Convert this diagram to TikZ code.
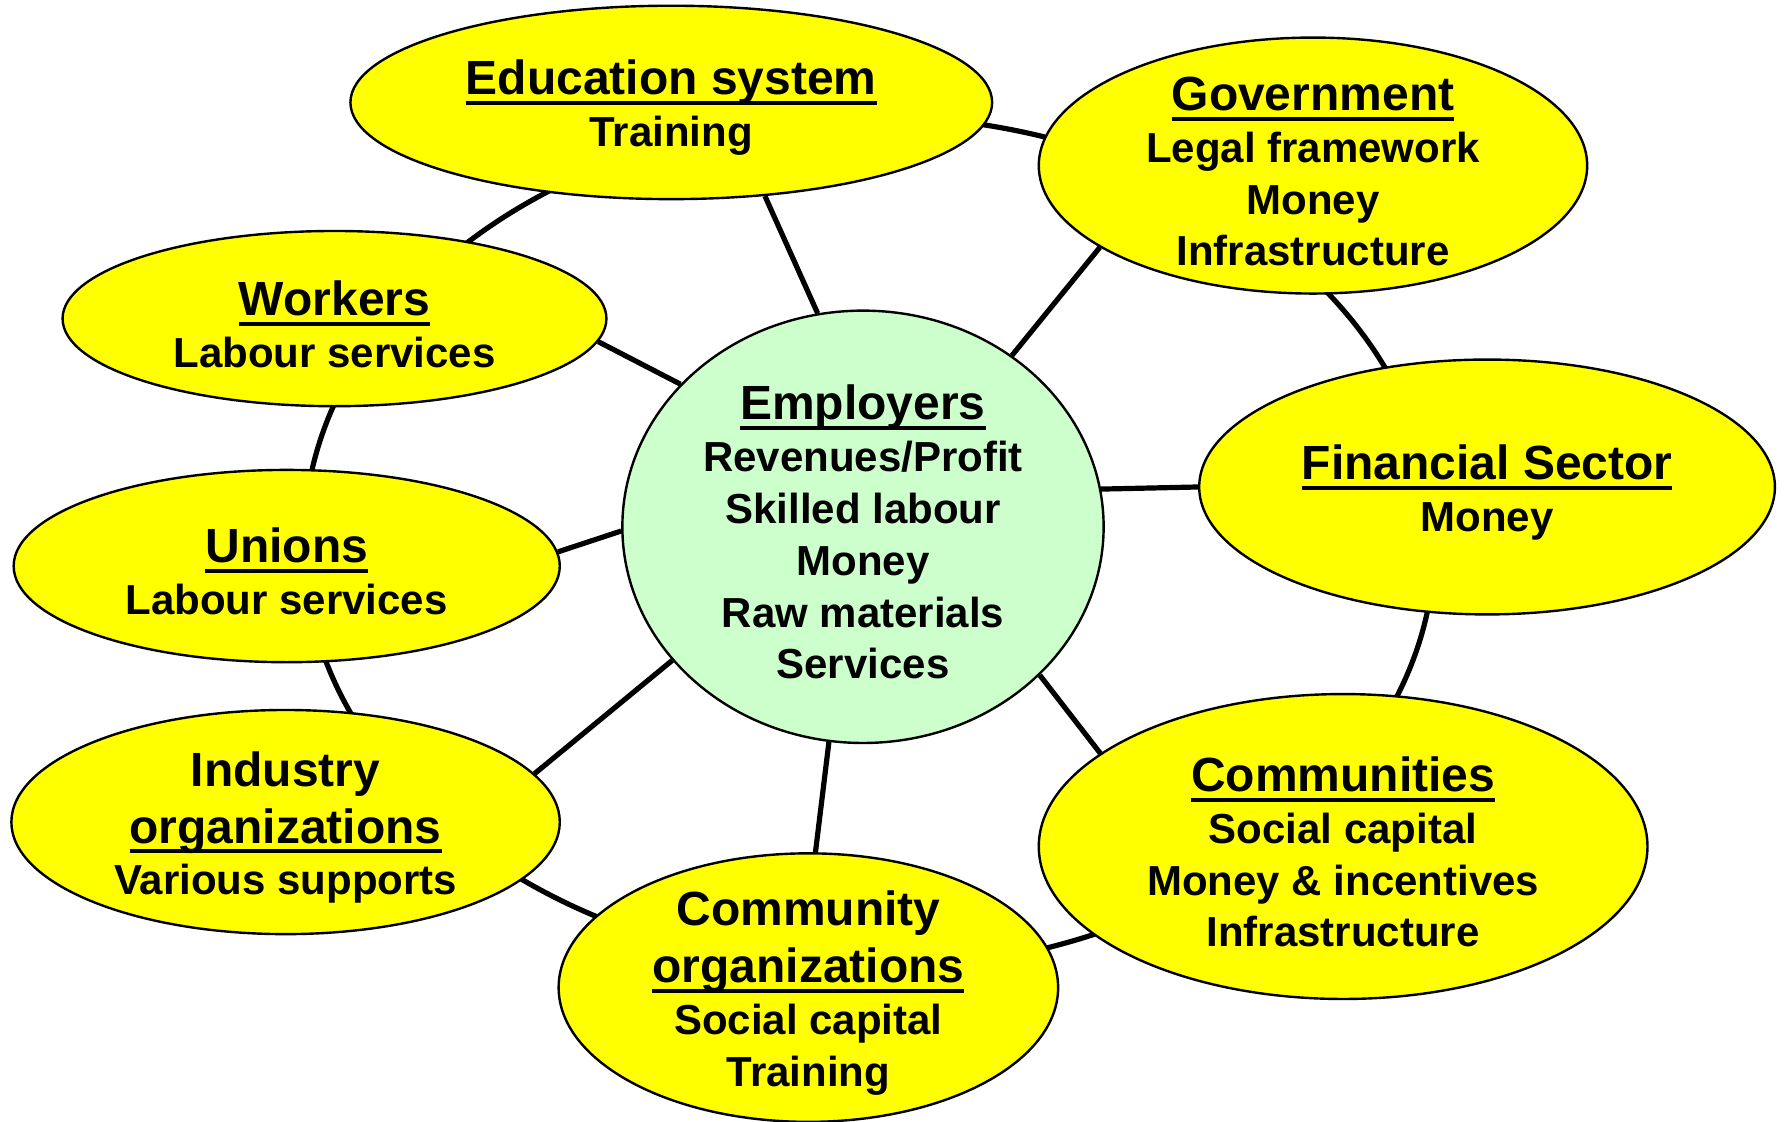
\documentclass[tikz,border=0pt]{standalone}
\usepackage{fontspec}
\setmainfont{Liberation Sans}
\usetikzlibrary{backgrounds,shapes.geometric}
\definecolor{bubbleyellow}{RGB}{255,255,0}
\definecolor{hubgreen}{RGB}{204,255,204}
\newcommand{\uword}[1]{\setbox0=\hbox{#1}\rlap{\rule[-2.6pt]{\wd0}{1pt}}\box0}
\newcommand{\uhead}[1]{{\fontsize{12}{14}\selectfont\rule{0pt}{11.4pt}\uword{#1}}}
\newcommand{\phead}[1]{{\fontsize{12}{14}\selectfont\rule{0pt}{11.4pt}#1}}
\newcommand{\ohead}[1]{{\fontsize{12}{14}\selectfont\uword{#1}}}

\begin{document}
\begin{tikzpicture}[
    bubble/.style={ellipse, draw, line width=0.6pt, fill=bubbleyellow, inner sep=0pt, inner ysep=-10pt,
      align=center, font=\bfseries\fontsize{10.5}{12.95}\selectfont},
    hub/.style={bubble, fill=hubgreen},
    link/.style={line width=1.3pt}
  ]
  \useasboundingbox (0,0) rectangle (15.68,-9.86);

  % centre
  \node[hub, minimum width=4.23cm, minimum height=3.80cm] (emp) at (7.585,-4.63)
    {\uhead{Employers}\\ Revenues/Profit\\ Skilled labour\\ Money\\ Raw materials\\ Services};

  % partners around it
  \node[bubble, minimum width=5.64cm, minimum height=1.70cm] (edu) at (5.90,-0.90)
    {\uhead{Education system}\\ Training};
  \node[bubble, minimum width=4.82cm, minimum height=2.25cm] (gov) at (11.54,-1.455)
    {\uhead{Government}\\ Legal framework\\ Money\\ Infrastructure};
  \node[bubble, minimum width=5.06cm, minimum height=2.24cm] (fin) at (13.07,-4.28)
    {\uhead{Financial Sector}\\ Money};
  \node[bubble, minimum width=5.35cm, minimum height=2.68cm] (comm) at (11.805,-7.44)
    {\uhead{Communities}\\ Social capital\\ Money \& incentives\\ Infrastructure};
  \node[bubble, minimum width=4.39cm, minimum height=2.36cm] (corg) at (7.105,-8.68)
    {\phead{Community}\\[1.3pt] \ohead{organizations}\\ Social capital\\ Training};
  \node[bubble, minimum width=4.82cm, minimum height=1.97cm] (ind) at (2.51,-7.225)
    {\phead{Industry}\\[1.3pt] \ohead{organizations}\\ Various supports};
  \node[bubble, minimum width=4.80cm, minimum height=1.69cm] (uni) at (2.52,-4.975)
    {\uhead{Unions}\\ Labour services};
  \node[bubble, minimum width=4.78cm, minimum height=1.54cm] (work) at (2.94,-2.80)
    {\uhead{Workers}\\ Labour services};

  \begin{scope}[on background layer]
    \coordinate (ringc) at (7.64,-4.77); % centre of the outer ring
    \draw[link] (ringc) ellipse [x radius=4.97, y radius=3.75];
    \draw[link] (emp.102) -- (edu.-45);
    \draw[link] (emp.49) -- (gov.201);
    \draw[link] (emp.9.4) -- (fin.180);
    \draw[link] (emp.-40.7) -- (comm.159.5);
    \draw[link] (emp.261.6) -- (corg.87);
    \draw[link] (emp.215.3) -- (ind.11);
    \draw[link] (emp.181.9) -- (uni.3);
    \draw[link] (emp.142.9) -- (work.-5);
  \end{scope}
\end{tikzpicture}
\end{document}
